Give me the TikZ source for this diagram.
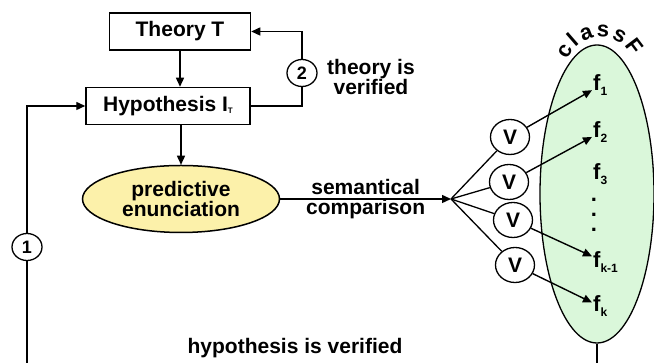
\documentclass[tikz,border=0pt]{standalone}
\usepackage{fontspec}
\setmainfont{Liberation Sans}
\usetikzlibrary{arrows.meta, shapes.geometric, positioning}
\definecolor{predfill}{HTML}{FCF1AA}
\definecolor{classfill}{HTML}{DAF7DA}
\newcommand{\lowsub}[1]{\raisebox{-5pt}{\fontsize{12}{12}\selectfont #1}}

\begin{document}
\begin{tikzpicture}[x=1pt, y=1pt,
  box/.style={draw, line width=1.5pt, minimum height=37pt,
              font=\fontsize{21}{20}\selectfont\bfseries},
  lbl/.style={align=center, font=\fontsize{21}{20}\selectfont\bfseries},
  num/.style={ellipse, draw, line width=1.3pt, fill=white, inner sep=0pt,
              minimum width=30pt, minimum height=27pt,
              font=\fontsize{18}{18}\selectfont\bfseries},
  vnode/.style={ellipse, draw, line width=1.3pt, fill=white, inner sep=0pt,
                minimum width=39pt, minimum height=35pt,
                font=\fontsize{21}{21}\selectfont\bfseries},
  fnode/.style={anchor=west, inner sep=1pt,
                font=\fontsize{22}{22}\selectfont\bfseries},
  arcchar/.style={anchor=base, inner sep=0pt,
                  font=\fontsize{22}{22}\selectfont\bfseries},
  arr/.style={-{Triangle[length=9pt,width=8pt]}, line width=1.4pt},
  link/.style={line width=1.3pt}
]
  \useasboundingbox (0,0) rectangle (654,363);

  % class F
  \node[ellipse, draw, line width=1.3pt, fill=classfill,
        minimum width=114pt, minimum height=298pt] (cls) at (597,169) {};
  \coordinate (arcc) at (601,291);
  \foreach \ch/\a [count=\i] in {c/150,l/131,a/111,s/87,s/63,F/37}
    \node[arcchar, rotate=\a-90] (cf\i) at ([shift={(\a:35pt)}]arcc) {\ch};

  \node[box, minimum width=141pt] (theory) at (180,331.5) {Theory T};
  \node[box, minimum width=164pt] (hyp) at (168,257)
    {Hypothesis I\raisebox{-2pt}{\fontsize{8}{8}\selectfont T}};
  \node[ellipse, draw, line width=1.5pt, fill=predfill, inner sep=0pt,
        minimum width=197pt, minimum height=67pt, lbl] (pred) at (181,164)
    {predictive\\enunciation};
  \coordinate (fan) at (451,164);

  \node[num] (one) at (27,116) {1};
  \node[num] (two) at (302,290) {2};
  \node[lbl, right=6pt of two, yshift=-4pt] (thv) {theory is\\verified};
  \node[lbl] (hypv) at (295,15) {hypothesis is verified};
  \coordinate (bot1) at (27,0);
  \coordinate (bot2) at (597,0);

  \node[vnode] (v1) at (510,226) {V};
  \node[vnode] (v2) at (509,181) {V};
  \node[vnode] (v3) at (513,143) {V};
  \node[vnode] (v4) at (515,98)  {V};

  \node[fnode] (f1)  at (592,277.5) {f\lowsub{1}};
  \node[fnode] (f2)  at (592,230.5) {f\lowsub{2}};
  \node[fnode] (f3)  at (592,188.5) {f\lowsub{3}};
  \foreach \y [count=\i] in {163,148,133}
    \node[fnode, anchor=center, inner sep=0pt] (dot\i) at (594,\y) {.};
  \node[fnode] (fk1) at (592,100.5) {f\lowsub{k-1}};
  \node[fnode] (fk)  at (592,56.5)  {f\lowsub{k}};

  % main chain
  \draw[arr] (theory) -- (theory |- hyp.north);
  \draw[arr] (pred |- hyp.south) -- (pred);
  \draw[arr] (pred) -- node[lbl, midway] (sem) {semantical\\comparison} (fan);

  % feedback loops
  \draw[link] (hyp) -| (two);
  \draw[arr] (two) |- (theory);
  \draw[link] (bot1) -- (one);
  \draw[arr] (one) |- (hyp);
  \draw[link] (cls) -- (bot2);

  % verification fan
  \foreach \v in {v1,v2,v3,v4}
    \draw[link] (fan) -- (\v);
  \draw[arr] (v1) -- (f1);
  \draw[arr] (v2) -- (f2);
  \draw[arr] (v3) -- (fk1);
  \draw[arr] (v4) -- (fk);
\end{tikzpicture}
\end{document}
